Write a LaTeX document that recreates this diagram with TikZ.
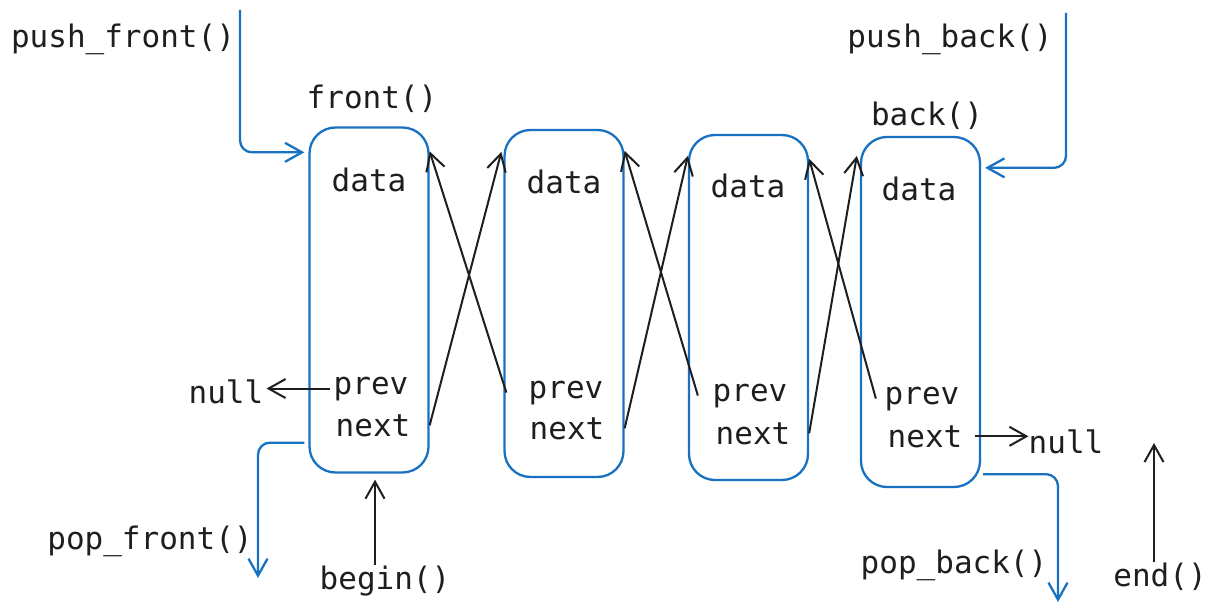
\documentclass[tikz,border=0pt]{standalone}
\usepackage{fontspec}
\setmonofont{DejaVu Sans Mono}
\usetikzlibrary{arrows.meta,calc}
\definecolor{exblue}{HTML}{1971C2}
\definecolor{ink}{HTML}{1E1E1E}
\begin{document}
\begin{tikzpicture}[x=1pt,y=-1pt,
  lbl/.style={font=\ttfamily\fontsize{31}{36}\selectfont, text=ink, inner sep=0pt, anchor=base},
  nodebox/.style={draw=exblue, line width=2.3pt, rounded corners=26pt, minimum width=119pt, inner sep=0pt},
  arr/.style={draw=ink, line width=2pt, -{Straight Barb[length=17pt,width=19pt]}},
  barr/.style={draw=exblue, line width=2.3pt, rounded corners=12pt, -{Straight Barb[length=17pt,width=19pt]}}
]
\useasboundingbox (0,0) rectangle (1214,612);

% list nodes
\node[nodebox, minimum height=345pt] (b1) at (369,300) {};
\node[nodebox, minimum height=347pt] (b2) at (564,303.5) {};
\node[nodebox, minimum height=345pt] (b3) at (748.5,307.5) {};
\node[nodebox, minimum height=350pt] (b4) at (920.5,312) {};

% field texts
\node[lbl] (data1) at (369,192) {data};
\node[lbl] (prev1) at (371,394) {prev};
\node[lbl] (next1) at (373,436) {next};
\node[lbl] (data2) at (564,194) {data};
\node[lbl] (prev2) at (566,398) {prev};
\node[lbl] (next2) at (567,439) {next};
\node[lbl] (data3) at (748,198) {data};
\node[lbl] (prev3) at (750,401) {prev};
\node[lbl] (next3) at (753,444) {next};
\node[lbl] (data4) at (919,201) {data};
\node[lbl] (prev4) at (922,404) {prev};
\node[lbl] (next4) at (925,447) {next};

% operation labels
\node[lbl] (pushfront) at (123,48) {push\_front()};
\node[lbl] (front) at (372,109) {front()};
\node[lbl] (pushback) at (950,48) {push\_back()};
\node[lbl] (back) at (927,126) {back()};
\node[lbl] (popfront) at (150,549) {pop\_front()};
\node[lbl] (begin) at (385,589) {begin()};
\node[lbl] (popback) at (954,573) {pop\_back()};
\node[lbl] (endlbl) at (1160,586) {end()};
\node[lbl] (nullL) at (226,403) {null};
\node[lbl] (nullR) at (1066,453) {null};

% free ends
\coordinate (pfstart) at (240,10);
\coordinate (pbstart) at (1066,13);
\coordinate (pfend) at (258,578);
\coordinate (pbend) at (1058,602);
\coordinate (endtip) at (1154,443);

% pointer arrows
\draw[arr] (b1.east |- next1.west) -- ($(b2.north west)+(-2,23)$);
\draw[arr] ($(b2.west |- prev2.west)+(3,0)$) -- ($(b1.north east)+(0,25)$);
\draw[arr] (b2.east |- next2.west) -- ($(b3.north west)+(0,22)$);
\draw[arr] ($(b3.west |- prev3.west)+(10,0)$) -- ($(b2.north east)+(0,22)$);
\draw[arr] (b3.east |- next3.west) -- ($(b4.north west)+(-3,20)$);
\draw[arr] ($(b4.west |- prev4.west)+(16,0)$) -- ($(b3.north east)+(0,25)$);

% null arrows
\draw[arr] ([xshift=-3pt]prev1.west) -- ([xshift=3pt]nullL.east |- prev1.west);
\draw[arr] ([xshift=12pt]next4.east) -- (nullR.west |- next4.east);

% blue operation arrows
\draw[barr] (pfstart) |- ($(b1.north west)+(-4,26)$);
\draw[barr] (pbstart) |- ($(b4.north east)+(4,32)$);
\draw[barr] ($(b1.south west)+(-4,-31)$) -| (pfend);
\draw[barr] ($(b4.south east)+(2,-14)$) -| (pbend);

% iterators
\draw[arr] ([xshift=6pt]b1.south |- begin.north) -- ([xshift=6pt,yshift=-6pt]b1.south);
\draw[arr] (endlbl.north -| endtip) -- (endtip);
\end{tikzpicture}
\end{document}
